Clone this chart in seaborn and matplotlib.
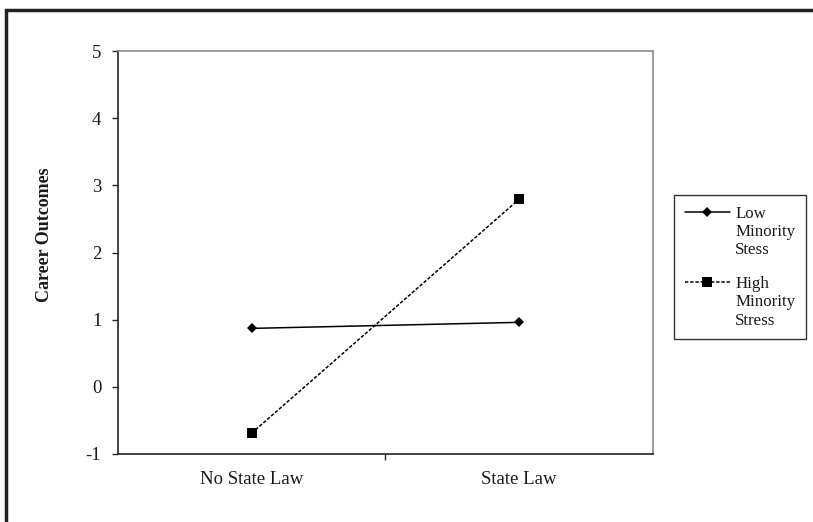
import matplotlib
matplotlib.use("Agg")
import matplotlib.pyplot as plt
import matplotlib.patches as mpatches
from matplotlib.legend_handler import HandlerLine2D
import seaborn as sns
import pandas as pd

# Interaction data: career outcomes by state law and minority stress
conditions = ["No State Law", "State Law"]
low_stress = [0.87, 0.96]
high_stress = [-0.69, 2.79]
series_names = ["Low\nMinority\nStess", "High\nMinority\nStress"]
y_ticks = [-1, 0, 1, 2, 3, 4, 5]

df = pd.DataFrame({
    "Condition": conditions * 2,
    "Outcome": low_stress + high_stress,
    "Group": [series_names[0]] * 2 + [series_names[1]] * 2,
})
df["pos"] = df["Condition"].map({c: i for i, c in enumerate(conditions)})

sns.set_theme(style="white")
plt.rcParams["font.family"] = ["Liberation Serif", "DejaVu Serif"]
plt.rcParams["text.color"] = "#1a1a1a"

fig = plt.figure(figsize=(8.13, 5.22), dpi=100)
ax = fig.add_axes([118 / 813, 1 - 454 / 522, 534.5 / 813, 403 / 522])

sns.lineplot(
    data=df, x="pos", y="Outcome", hue="Group", style="Group",
    palette=["black", "black"],
    markers={series_names[0]: "D", series_names[1]: "s"},
    dashes={series_names[0]: "", series_names[1]: (2.2, 1.2)},
    markersize=6, linewidth=1.1, markeredgewidth=0,
    ax=ax, legend=False,
)
for line, ms in zip(ax.lines, [5.2, 6.5]):
    line.set_markersize(ms)

ax.set_xlim(-0.5, 1.5)
ax.set_ylim(-1, 5)
ax.set_yticks(y_ticks)
ax.set_yticklabels([str(v) for v in y_ticks])
ax.set_xticks(range(len(conditions)))
ax.set_xticklabels(conditions)
ax.set_xticks([0.5], minor=True)
ax.tick_params(axis="x", which="major", length=0, pad=12, labelsize=13.5,
               labelcolor="#1a1a1a")
ax.tick_params(axis="x", which="minor", length=4, width=1, direction="out", bottom=True)
ax.tick_params(axis="y", length=4, width=1, direction="out", left=True, pad=8,
               labelsize=13.5, labelcolor="#1a1a1a")
ax.set_xlabel("")
ax.set_ylabel("Career Outcomes", fontsize=13, fontweight="bold", color="#1a1a1a")
ax.yaxis.set_label_coords(-0.1216, 0.543)

for side in ["left", "bottom"]:
    ax.spines[side].set_color("#222222")
    ax.spines[side].set_linewidth(1.2)
for side in ["top", "right"]:
    ax.spines[side].set_color("#8a8a8a")
    ax.spines[side].set_linewidth(1.2)


class TopAlignedHandler(HandlerLine2D):
    """Place the legend key beside the first line of a multi-line label."""
    def __init__(self, n_extra_lines, **kw):
        super().__init__(**kw)
        self.n_extra = n_extra_lines

    def create_artists(self, legend, orig_handle, xdescent, ydescent,
                       width, height, fontsize, trans):
        shift = self.n_extra * 1.2 * fontsize
        return super().create_artists(legend, orig_handle, xdescent,
                                      ydescent - shift, width, height,
                                      fontsize, trans)


handles = ax.lines[:2]
leg = fig.legend(
    handles, series_names,
    loc="upper left", bbox_to_anchor=(674 / 813, 1 - 195 / 522),
    fontsize=12.2, frameon=True, fancybox=False, edgecolor="black",
    handlelength=2.7, handletextpad=0.3, labelspacing=1.05,
    borderpad=0.62, borderaxespad=0,
    handler_map={h: TopAlignedHandler(2) for h in handles},
)
leg.get_frame().set_linewidth(1.0)

# Outer chart frame
fig.patches.append(mpatches.Rectangle(
    (6 / 813, -0.05), 1.1, 1 - 10 / 522 + 0.05, transform=fig.transFigure,
    fill=False, edgecolor="#222222", linewidth=2.5, clip_on=False))

fig.savefig("out.png", dpi=100)
